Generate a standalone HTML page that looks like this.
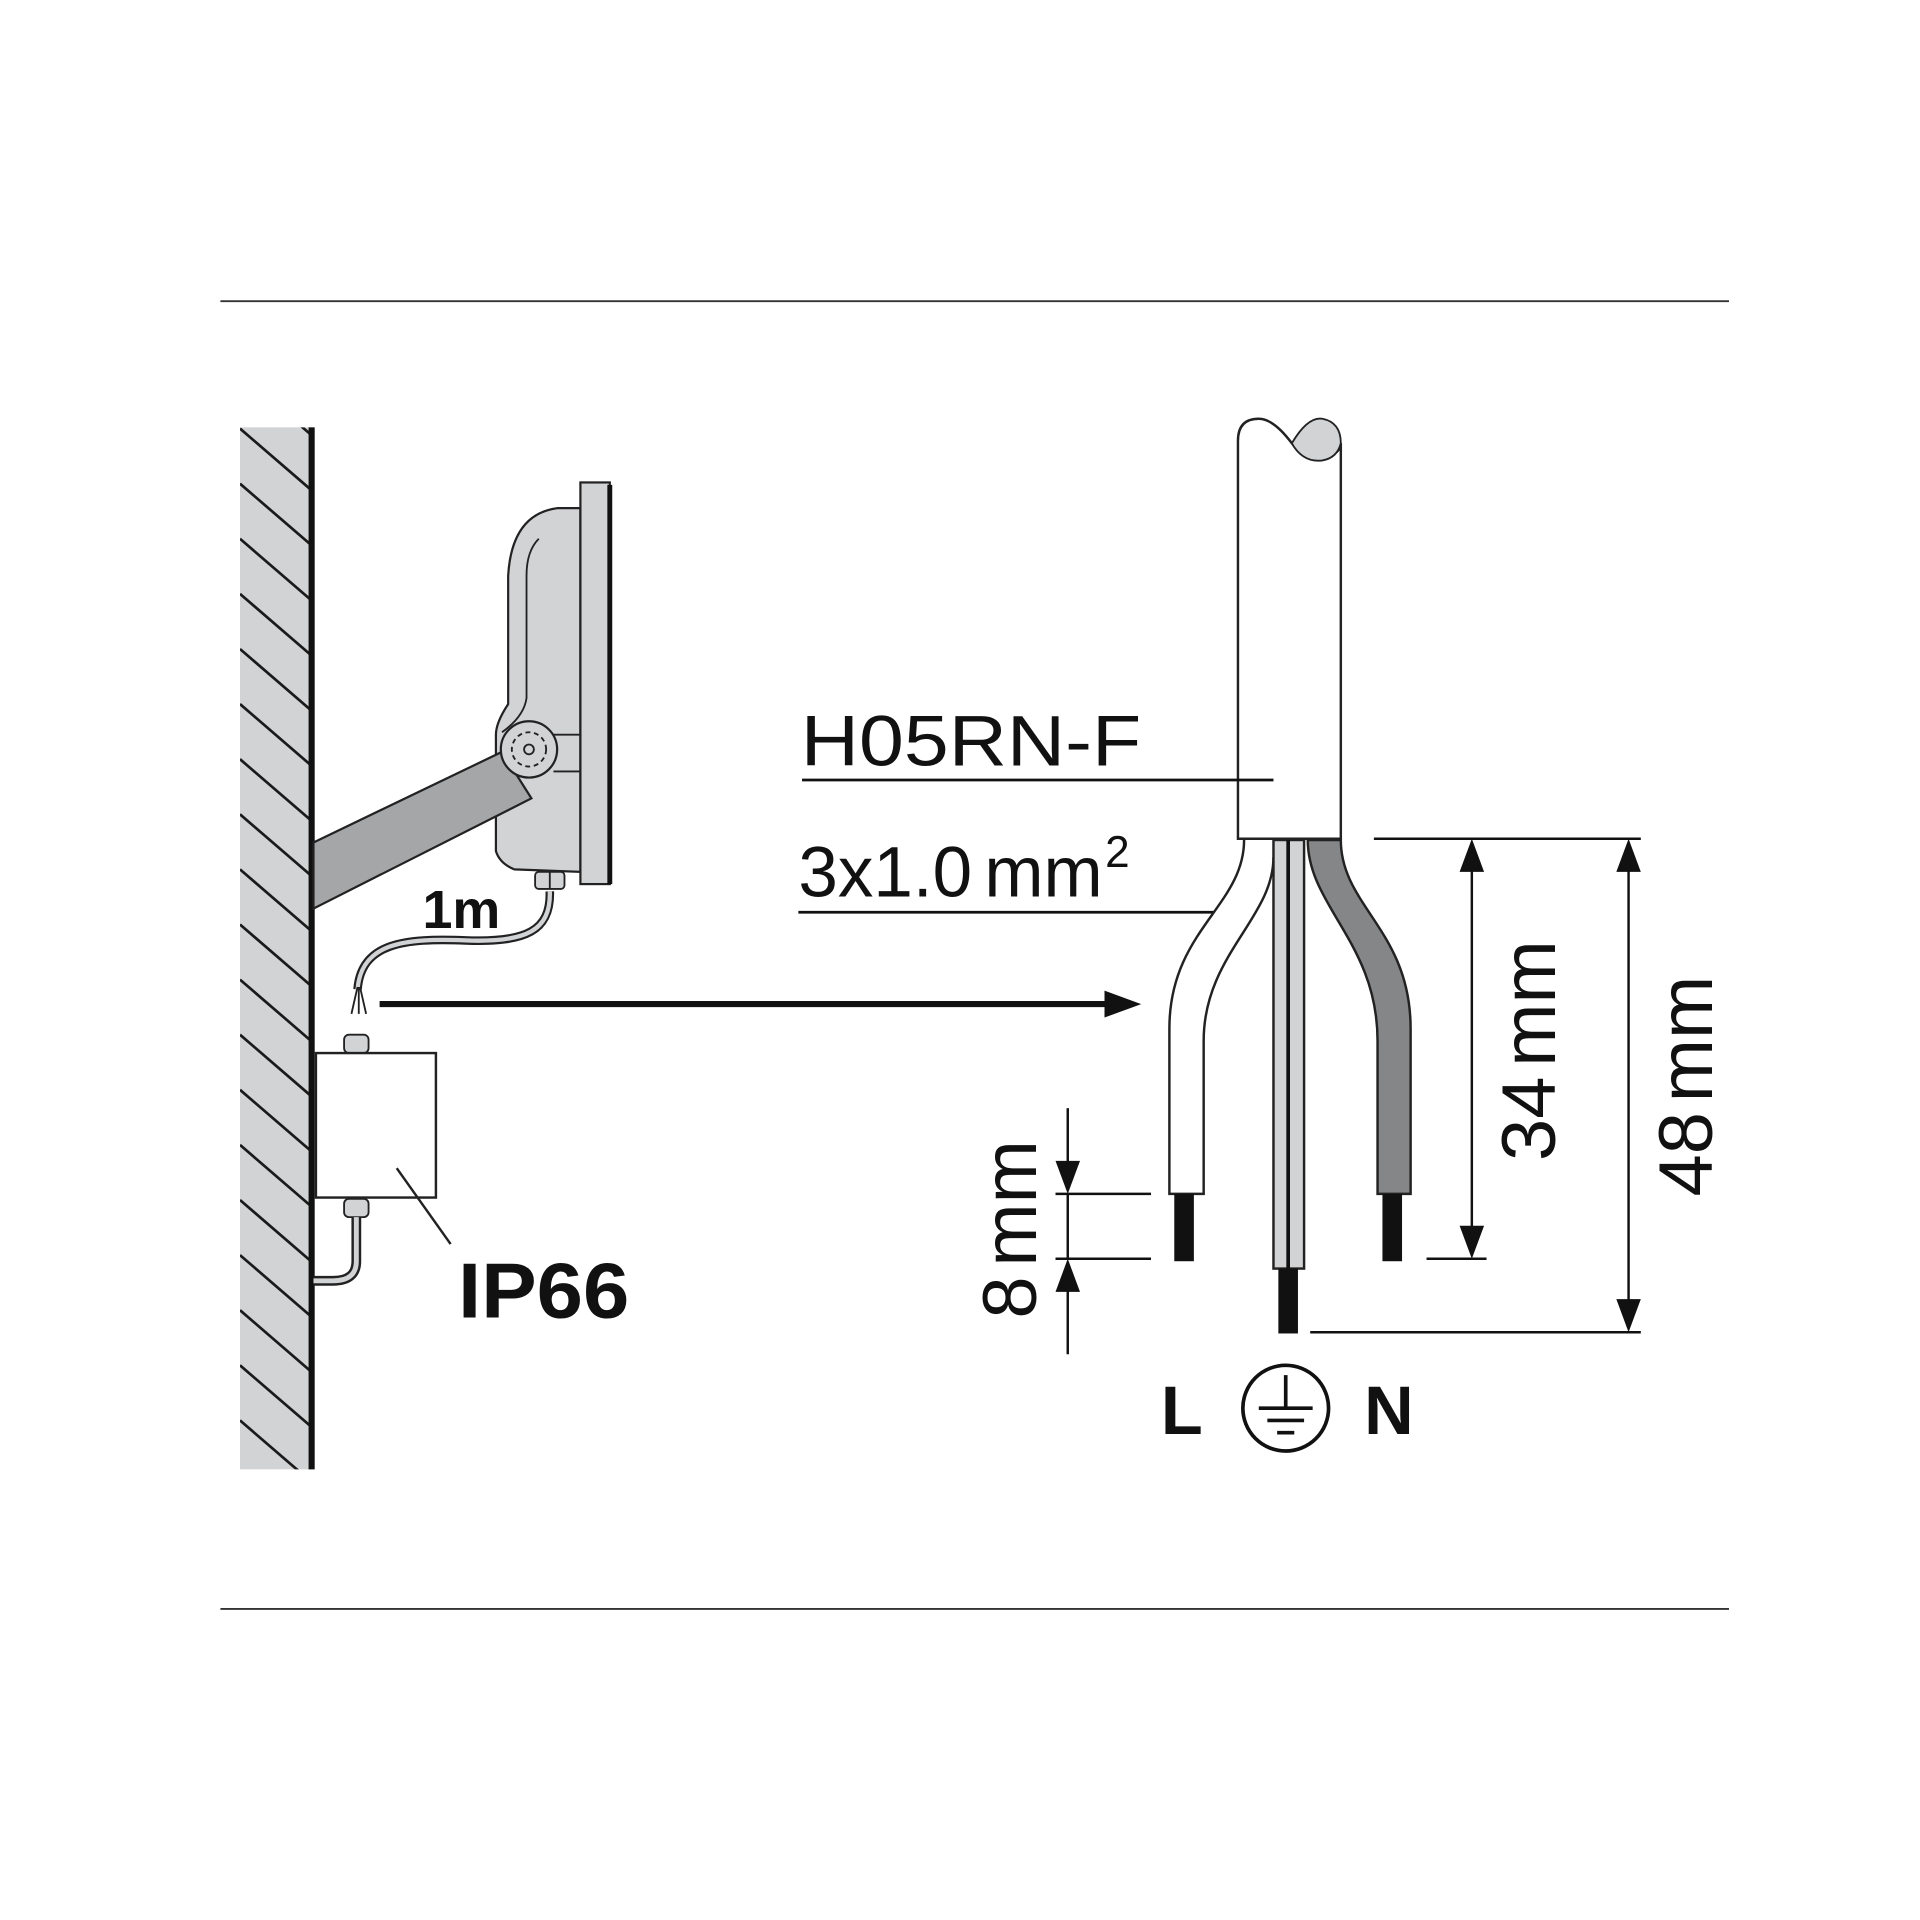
<!DOCTYPE html>
<html><head><meta charset="utf-8"><style>
html,body{margin:0;padding:0;background:#fff;}
svg{display:block;}
text{font-family:"Liberation Sans",sans-serif;fill:#111;}
</style></head><body>
<svg width="1920" height="1920" viewBox="0 0 1568 1568" xmlns="http://www.w3.org/2000/svg">
<rect width="1568" height="1568" fill="#fff"/>
<line x1="180" y1="246" x2="1412" y2="246" stroke="#333" stroke-width="1.5"/>
<line x1="180" y1="1314" x2="1412" y2="1314" stroke="#333" stroke-width="1.5"/>

<defs><clipPath id="wc"><rect x="196" y="349" width="58" height="851"/></clipPath></defs>
<rect x="196" y="349" width="58" height="851" fill="#d2d3d5"/>
<g clip-path="url(#wc)" stroke="#1a1a1a" stroke-width="2.2">
<line x1="196" y1="305" x2="254" y2="355"/>
<line x1="196" y1="350" x2="254" y2="400"/>
<line x1="196" y1="395" x2="254" y2="445"/>
<line x1="196" y1="440" x2="254" y2="490"/>
<line x1="196" y1="485" x2="254" y2="535"/>
<line x1="196" y1="530" x2="254" y2="580"/>
<line x1="196" y1="575" x2="254" y2="625"/>
<line x1="196" y1="620" x2="254" y2="670"/>
<line x1="196" y1="665" x2="254" y2="715"/>
<line x1="196" y1="710" x2="254" y2="760"/>
<line x1="196" y1="755" x2="254" y2="805"/>
<line x1="196" y1="800" x2="254" y2="850"/>
<line x1="196" y1="845" x2="254" y2="895"/>
<line x1="196" y1="890" x2="254" y2="940"/>
<line x1="196" y1="935" x2="254" y2="985"/>
<line x1="196" y1="980" x2="254" y2="1030"/>
<line x1="196" y1="1025" x2="254" y2="1075"/>
<line x1="196" y1="1070" x2="254" y2="1120"/>
<line x1="196" y1="1115" x2="254" y2="1165"/>
<line x1="196" y1="1160" x2="254" y2="1210"/>
</g>
<rect x="252" y="349" width="5" height="851" fill="#111"/>

<path d="M474,415 L455,415 Q418,420 415,470 L415,575 Q405,590 405,600 L405,695 Q408,705 420,710 L474,712 Z" fill="#d2d3d5" stroke="#222" stroke-width="1.8"/>
<path d="M440,440 Q430,450 430,470 L430,570 Q428,585 410,598" fill="none" stroke="#222" stroke-width="1.5"/>
<path d="M452,600 L474,600 M452,630 L474,630" stroke="#222" stroke-width="1.5"/>
<rect x="474" y="394" width="24" height="328" fill="#d2d3d5" stroke="#222" stroke-width="1.8"/>
<rect x="496" y="396" width="4" height="326" fill="#111"/>
<polygon points="256,688 410,614 434,652 256,742" fill="#a5a6a8" stroke="#222" stroke-width="1.8"/>
<circle cx="432" cy="612" r="23" fill="#d2d3d5" stroke="#222" stroke-width="1.8"/>
<circle cx="432" cy="612" r="14" fill="none" stroke="#222" stroke-width="1.5" stroke-dasharray="4 3"/>
<circle cx="432" cy="612" r="4" fill="none" stroke="#222" stroke-width="1.5"/>
<rect x="437" y="712" width="24" height="14" rx="3" fill="#d2d3d5" stroke="#222" stroke-width="1.5"/>
<line x1="449" y1="712" x2="449" y2="726" stroke="#222" stroke-width="1.5"/>
<path d="M449,728 C450,760 430,770 380,768 C330,766 295,770 292,808" fill="none" stroke="#222" stroke-width="7"/>
<path d="M449,728 C450,760 430,770 380,768 C330,766 295,770 292,808" fill="none" stroke="#d2d3d5" stroke-width="3.5"/>
<path d="M292,806 L287,828 M293,806 L293,828 M294,806 L299,828" stroke="#222" stroke-width="1.5"/>
<text x="345" y="758" font-size="44" font-weight="bold">1m</text>

<line x1="310" y1="820" x2="905" y2="820" stroke="#111" stroke-width="5"/>
<polygon points="902,809 932,820 902,831" fill="#111"/>

<rect x="281" y="845" width="20" height="15" rx="4" fill="#d2d3d5" stroke="#222" stroke-width="1.5"/>
<rect x="258" y="860" width="98" height="118" fill="#fff" stroke="#222" stroke-width="2"/>
<rect x="281" y="979" width="20" height="15" rx="4" fill="#d2d3d5" stroke="#222" stroke-width="1.5"/>
<path d="M291,994 L291,1030 Q291,1046 272,1046 L256,1046" fill="none" stroke="#222" stroke-width="8"/>
<path d="M291,994 L291,1030 Q291,1046 272,1046 L256,1046" fill="none" stroke="#d2d3d5" stroke-width="4"/>
<line x1="324" y1="954" x2="368" y2="1016" stroke="#222" stroke-width="2"/>
<text x="374" y="1076" font-size="64" font-weight="bold" textLength="140" lengthAdjust="spacingAndGlyphs">IP66</text>

<path d="M1011,685 L1011,360 Q1011,342 1028,342 Q1040,342 1055,362 Q1067,378 1082,374 Q1095,370 1095,362 L1095,685 Z" fill="#fff" stroke="#222" stroke-width="2"/>
<path d="M1055,362 Q1068,340 1080,342 Q1095,345 1095,362 Q1092,374 1080,376 Q1064,378 1055,362 Z" fill="#d2d3d5" stroke="#222" stroke-width="1.5"/>

<text x="654" y="625" font-size="58" textLength="278" lengthAdjust="spacingAndGlyphs">H05RN-F</text>
<line x1="655" y1="637" x2="1040" y2="637" stroke="#111" stroke-width="2.2"/>
<text x="652" y="732" font-size="58">3x1.0<tspan dx="10">mm</tspan><tspan font-size="36" dx="2" dy="-24">2</tspan></text>
<line x1="652" y1="745" x2="1008" y2="745" stroke="#111" stroke-width="2.2"/>

<path d="M1016,686 C1016,740 955,760 955,840 L955,975 L983,975 L983,850 C983,780 1040,750 1040,700" fill="#fff" stroke="#222" stroke-width="2"/>
<rect x="959" y="975" width="16" height="55" fill="#111"/>
<rect x="1040" y="686" width="25" height="350" fill="#d2d3d5" stroke="#222" stroke-width="2"/>
<line x1="1052" y1="686" x2="1052" y2="1036" stroke="#111" stroke-width="3"/>
<rect x="1044" y="1036" width="16" height="53" fill="#111"/>
<path d="M1068,686 C1068,740 1125,770 1125,850 L1125,975 L1152,975 L1152,840 C1152,760 1095,740 1095,686 Z" fill="#858688" stroke="#222" stroke-width="2"/>
<rect x="1129" y="975" width="16" height="55" fill="#111"/>

<g stroke="#111" stroke-width="2">
<line x1="1122" y1="685" x2="1340" y2="685"/>
<line x1="1165" y1="1028" x2="1214" y2="1028"/>
<line x1="1070" y1="1088" x2="1340" y2="1088"/>
<line x1="1202" y1="705" x2="1202" y2="1008"/>
<line x1="1330" y1="705" x2="1330" y2="1068"/>
<line x1="862" y1="975" x2="940" y2="975"/>
<line x1="862" y1="1028" x2="940" y2="1028"/>
<line x1="872" y1="905" x2="872" y2="955"/>
<line x1="872" y1="975" x2="872" y2="1028"/>
<line x1="872" y1="1048" x2="872" y2="1106"/>
</g>
<polygon points="1202,685 1192,712 1212,712" fill="#111"/>
<polygon points="1202,1028 1192,1001 1212,1001" fill="#111"/>
<polygon points="1330,685 1320,712 1340,712" fill="#111"/>
<polygon points="1330,1088 1320,1061 1340,1061" fill="#111"/>
<polygon points="872,975 862,948 882,948" fill="#111"/>
<polygon points="872,1028 862,1055 882,1055" fill="#111"/>
<text transform="translate(1270,858) rotate(-90)" font-size="62" text-anchor="middle">34<tspan dx="8">mm</tspan></text>
<text transform="translate(1398,887) rotate(-90)" font-size="62" text-anchor="middle">48<tspan dx="8">mm</tspan></text>
<text transform="translate(846,1004) rotate(-90)" font-size="62" text-anchor="middle">8<tspan dx="8">mm</tspan></text>

<text x="948" y="1171" font-size="56" font-weight="bold">L</text>
<circle cx="1050" cy="1150" r="35" fill="none" stroke="#111" stroke-width="3"/>
<g stroke="#111" stroke-width="3">
<line x1="1050" y1="1123" x2="1050" y2="1150"/>
<line x1="1028" y1="1150" x2="1072" y2="1150"/>
<line x1="1035" y1="1160" x2="1065" y2="1160"/>
<line x1="1043" y1="1170" x2="1057" y2="1170"/>
</g>
<text x="1114" y="1171" font-size="56" font-weight="bold">N</text>
</svg>
</body></html>
